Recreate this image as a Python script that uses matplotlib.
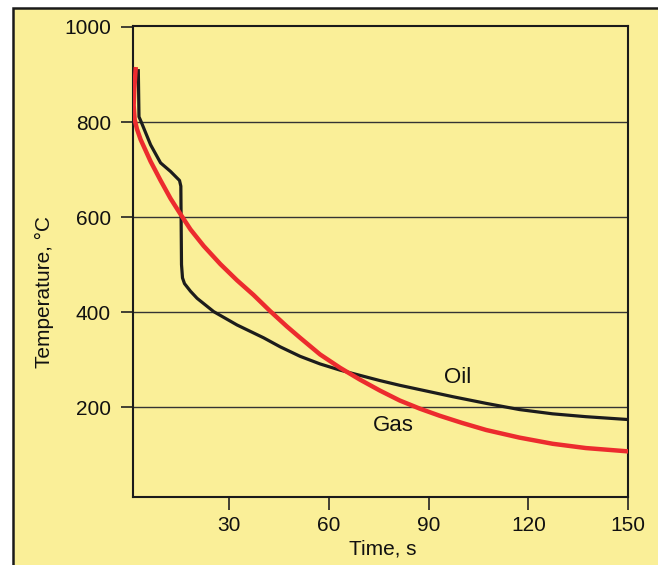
import matplotlib.pyplot as plt
from matplotlib.patches import Rectangle

# Values
oil_time = [2.6, 2.8, 3.3, 6.3, 9.3, 12.3, 15.0, 15.4, 15.6, 15.9, 16.5, 18.3, 20.3, 25.3,
            32.3, 40.3, 45.3, 51.3, 57.3, 63.3, 69.3, 75.3, 81.3, 87.3, 93.3, 97.3,
            107.3, 117.3, 127.3, 137.3, 150]
oil_temp = [908, 811, 803, 752, 714, 696, 677, 665, 500, 472, 460, 444, 429, 401,
            373, 346, 327, 307, 291, 278, 267, 256, 246, 237, 228, 222,
            208, 195, 186, 180, 174]

gas_time = [1.8, 1.4, 1.2, 1.5, 2.2, 3.3, 6.3, 9.3, 12.3, 15.3, 18.3, 22.3, 27.3,
            32.3, 37.3, 42.3, 47.3, 51.3, 57.3, 63.3, 69.3, 75.3, 81.3, 87.3, 93.3, 100,
            107.3, 117.3, 127.3, 137.3, 150]
gas_temp = [911, 870, 835, 805, 785, 763, 717, 677, 639, 606, 574, 539, 501,
            467, 436, 402, 370, 346, 311, 283, 258, 235, 214, 197, 182, 167,
            152, 136, 123, 114, 107]

x_ticks = [30, 60, 90, 120, 150]
y_ticks = [200, 400, 600, 800, 1000]

bg = '#FAEF98'
plt.rcParams['font.family'] = ['Liberation Sans', 'DejaVu Sans']

fig = plt.figure(figsize=(6.58, 5.65), dpi=100)
fig.patch.set_facecolor('white')

# yellow page panel with a black frame on the left and top
fig.patches.append(Rectangle((13 / 658, -0.1), 1.2, 1.1 - 8 / 565, transform=fig.transFigure,
                             facecolor=bg, edgecolor='#1a1a1a', linewidth=1.8, zorder=-10))

ax = fig.add_axes([133 / 658, 1 - 497 / 565, (628 - 133) / 658, (497 - 26) / 565])
ax.patch.set_alpha(0)

ax.plot(oil_time, oil_temp, color='#1c1c1c', linewidth=2.3, zorder=3)
ax.plot(gas_time, gas_temp, color='#EC2B2E', linewidth=3.2, zorder=4)

ax.text(98.6, 263, 'Oil', fontsize=16, ha='center', va='center', color='#111111')
ax.text(79.4, 162, 'Gas', fontsize=16, ha='center', va='center', color='#111111')

ax.set_xlim(1, 150)
ax.set_ylim(11, 1002)
ax.set_xticks(x_ticks)
ax.set_yticks(y_ticks)
ax.tick_params(axis='both', direction='out', length=9, width=1.2, color='#222222',
               labelsize=15, labelcolor='#111111')
ax.tick_params(axis='y', pad=7)
ax.tick_params(axis='x', pad=5)

for y in y_ticks[:-1]:
    ax.axhline(y, color='#333333', linewidth=1.0, zorder=1)

for s in ax.spines.values():
    s.set_linewidth(1.5)
    s.set_color('#1a1a1a')

fig.text(383 / 658, 1 - 549 / 565, 'Time, s', fontsize=15, ha='center', va='center', color='#111111')
fig.text(44 / 658, 1 - 291.5 / 565, 'Temperature, °C', fontsize=15, rotation=90,
         ha='center', va='center', color='#111111')

fig.savefig('out.png', dpi=100)
